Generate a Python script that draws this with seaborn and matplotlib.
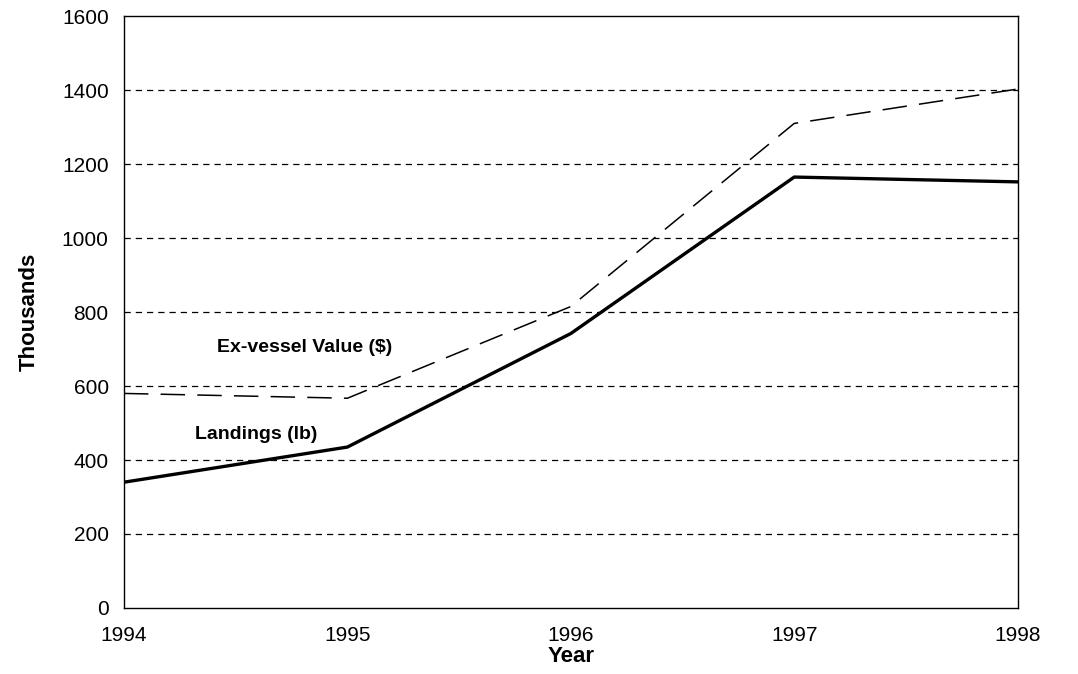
import pandas as pd
import numpy as np
import matplotlib
matplotlib.use("Agg")
import matplotlib.pyplot as plt
import seaborn as sns

sns.set_style("white")
plt.rcParams['font.family'] = ['Liberation Sans', 'DejaVu Sans']
plt.rcParams['text.color'] = 'black'
plt.rcParams['axes.labelcolor'] = 'black'
plt.rcParams['xtick.color'] = 'black'
plt.rcParams['ytick.color'] = 'black'

years = [1994, 1995, 1996, 1997, 1998]
landings = [340, 435, 742, 1165, 1152]
ex_vessel = [580, 567, 815, 1310, 1403]

df = pd.DataFrame({'Year': years, 'Landings': landings, 'ExVessel': ex_vessel})

fig = plt.figure(figsize=(10.78, 6.74), dpi=100)
ax = fig.add_axes([0.115, 0.098, 0.829, 0.878])

# dashed horizontal grid
for y in range(200, 1600, 200):
    ax.axhline(y, color='black', lw=0.9, ls=(0, (5, 4)), zorder=1)

sns.lineplot(data=df, x='Year', y='ExVessel', ax=ax, color='black', lw=1.1, zorder=3)
ax.lines[-1].set_dashes([16, 8])
sns.lineplot(data=df, x='Year', y='Landings', ax=ax, color='black', lw=2.4, zorder=3)

ax.text(1994.81, 705, 'Ex-vessel Value ($)', fontsize=14, fontweight='bold', ha='center', va='center')
ax.text(1994.59, 468, 'Landings (lb)', fontsize=14, fontweight='bold', ha='center', va='center')

ax.set_xlim(1994, 1998)
ax.set_ylim(0, 1600)
ax.set_xticks(years)
ax.set_yticks(range(0, 1601, 200))
ax.tick_params(axis='both', labelsize=15, length=0)
ax.tick_params(axis='x', pad=13)
ax.tick_params(axis='y', pad=11)
ax.set_xlabel('Year', fontsize=16, fontweight='bold', labelpad=1)
ax.set_ylabel('Thousands', fontsize=16, fontweight='bold', labelpad=16)
for s in ax.spines.values():
    s.set_color('black')
    s.set_linewidth(1.0)

plt.savefig('out.png', dpi=100)
